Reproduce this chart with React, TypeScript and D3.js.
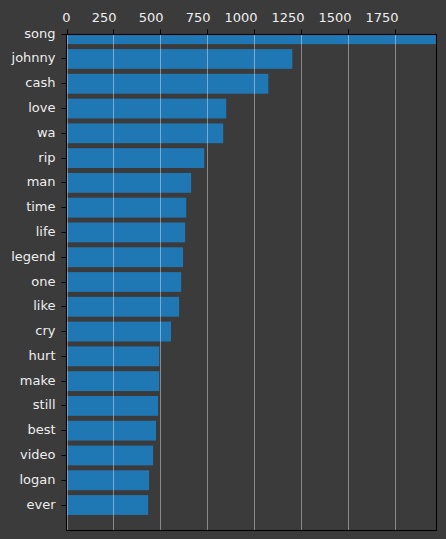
import { useEffect } from 'react'
import * as d3 from 'd3'

const WORDS = ['song', 'johnny', 'cash', 'love', 'wa', 'rip', 'man', 'time', 'life', 'legend', 'one', 'like', 'cry', 'hurt', 'make', 'still', 'best', 'video', 'logan', 'ever']
const COUNTS = [2060, 1203, 1075, 851, 835, 734, 664, 638, 632, 621, 611, 600, 557, 494, 494, 488, 477, 461, 440, 435]
const X_TICKS = [0, 250, 500, 750, 1000, 1250, 1500, 1750]

const W = 446
const H = 539
const BOX = { l: 66.5, r: 436.5, t: 34.5, b: 530.5 }
const BG = '#3b3b3b'
const TXT = '#eeeeee'
const FONT = '"DejaVu Sans", sans-serif'

export default function App() {
  useEffect(() => {
    document.body.style.margin = '0'
    document.body.style.background = BG
  }, [])

  const x = d3.scaleLinear().domain([0, 1971]).range([BOX.l, BOX.r])
  // index-based y: top of axes sits on the first category's centre
  const y = d3.scaleLinear().domain([0, 20]).range([34.2, 529.8])
  const barH = (y(1) - y(0)) * 0.8

  return (
    <svg width={W} height={H} style={{ display: 'block', background: BG }} fontFamily={FONT}>
      <defs>
        <clipPath id="plot">
          <rect x={BOX.l} y={BOX.t} width={BOX.r - BOX.l} height={BOX.b - BOX.t} />
        </clipPath>
      </defs>
      <rect x={0} y={0} width={W} height={H} fill={BG} />

      <g clipPath="url(#plot)">
        {WORDS.map((w, i) => (
          <rect key={w} x={x(0)} y={y(i) - barH / 2} width={x(COUNTS[i]) - x(0)} height={barH} fill="#1f77b4" />
        ))}
        {X_TICKS.map((t) => (
          <line key={t} x1={Math.round(x(t)) + 0.5} x2={Math.round(x(t)) + 0.5} y1={BOX.t} y2={BOX.b} stroke="rgba(255,255,255,0.4)" strokeWidth={1} />
        ))}
      </g>

      {/* top x axis */}
      {X_TICKS.map((t) => {
        const px = Math.round(x(t)) + 0.5
        return (
          <g key={t}>
            <line x1={px} x2={px} y1={BOX.t - 5} y2={BOX.t} stroke="#000" strokeWidth={1} />
            <text x={px + 3} y={21.5} textAnchor="end" fontSize={13} fill={TXT}>{t}</text>
          </g>
        )
      })}

      {/* left y axis */}
      {WORDS.map((w, i) => {
        const py = Math.floor(y(i)) + 0.5
        return (
          <g key={w}>
            <line x1={BOX.l - 5} x2={BOX.l} y1={py} y2={py} stroke="#000" strokeWidth={1} />
            <text x={BOX.l - 11} y={py + 3} textAnchor="end" fontSize={13} fill={TXT}>{w}</text>
          </g>
        )
      })}

      <rect x={BOX.l} y={BOX.t} width={BOX.r - BOX.l} height={BOX.b - BOX.t} fill="none" stroke="#000" strokeWidth={1.1} />
    </svg>
  )
}
